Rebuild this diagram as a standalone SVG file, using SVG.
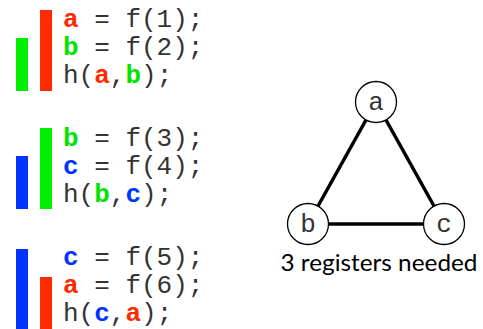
<svg xmlns="http://www.w3.org/2000/svg" width="483" height="329" viewBox="0 0 483 329">
<style>
.code{font-family:"Liberation Mono","Courier New",monospace;font-size:26px;fill:#333}
.r{fill:#ff2a00;font-weight:bold}
.g{fill:#00e400;font-weight:bold}
.bl{fill:#0033ff;font-weight:bold}
.node circle{fill:#fff;stroke:#000;stroke-width:1.3}
.node text{font-family:"Liberation Mono","Courier New",monospace;font-size:26px;fill:#333;text-anchor:middle}
.edge{stroke:#000;stroke-width:3.5}
.cap{font-family:Lato,"Open Sans",sans-serif;font-size:24px;fill:#000;text-anchor:middle}
</style>
<rect width="483" height="329" fill="#fff"/>
<g id="bars">
<rect x="40" y="10" width="12" height="81" fill="#ff2a00"/>
<rect x="16" y="38" width="12" height="53" fill="#00ee00"/>
<rect x="40" y="128" width="12" height="81" fill="#00ee00"/>
<rect x="16" y="156" width="12" height="53" fill="#0033ff"/>
<rect x="16" y="249" width="12" height="80" fill="#0033ff"/>
<rect x="40" y="277" width="12" height="52" fill="#ff2a00"/>
</g>
<g id="code" class="code">
<text x="63" y="27"><tspan class="r">a</tspan> = f(1);</text>
<text x="63" y="55"><tspan class="g">b</tspan> = f(2);</text>
<text x="63" y="83">h(<tspan class="r">a</tspan>,<tspan class="g">b</tspan>);</text>
<text x="63" y="146"><tspan class="g">b</tspan> = f(3);</text>
<text x="63" y="174"><tspan class="bl">c</tspan> = f(4);</text>
<text x="63" y="202">h(<tspan class="g">b</tspan>,<tspan class="bl">c</tspan>);</text>
<text x="63" y="265"><tspan class="bl">c</tspan> = f(5);</text>
<text x="63" y="293"><tspan class="r">a</tspan> = f(6);</text>
<text x="63" y="321">h(<tspan class="bl">c</tspan>,<tspan class="r">a</tspan>);</text>
</g>
<g id="edges">
<line class="edge" x1="376" y1="102" x2="308" y2="224"/>
<line class="edge" x1="376" y1="102" x2="444" y2="224"/>
<line class="edge" x1="308" y1="224" x2="444" y2="224"/>
</g>
<g id="node-a" class="node"><circle cx="376" cy="102" r="20.5"/><text x="376" y="110">a</text></g>
<g id="node-b" class="node"><circle cx="308" cy="224" r="20.5"/><text x="308" y="232">b</text></g>
<g id="node-c" class="node"><circle cx="444" cy="224" r="20.5"/><text x="444" y="232">c</text></g>
<text class="cap" x="379" y="271" textLength="197" lengthAdjust="spacingAndGlyphs">3 registers needed</text>
</svg>
